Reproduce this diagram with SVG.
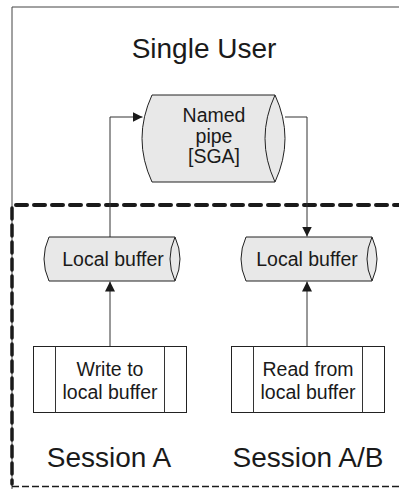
<svg xmlns="http://www.w3.org/2000/svg" width="399" height="489" viewBox="0 0 399 489">
<defs>
<marker id="ah" viewBox="0 0 10 10" refX="10" refY="5" markerWidth="10" markerHeight="10" markerUnits="userSpaceOnUse" orient="auto">
<path d="M0,0 L10,5 L0,10 Z" fill="#1a1a1a"/>
</marker>
</defs>
<style>
.frame{fill:none;stroke:#444;stroke-width:1}
.cyl{fill:#e8e8e8;stroke:#222;stroke-width:1}
.box{fill:#fff;stroke:#222;stroke-width:1}
.ln{fill:none;stroke:#333;stroke-width:1}
.t{font-family:"Liberation Sans",Arial,sans-serif;fill:#1a1a1a;text-anchor:middle}
.s{font-size:19.5px}
.b{font-size:28px}
</style>
<rect width="399" height="489" fill="#fff"/>
<g id="outer-frame">
<path class="frame" d="M12,489 L12,7 L399,7"/>
<text class="t b" x="204" y="58">Single User</text>
</g>
<g id="session-frame">
<path d="M12,205 L399,205" fill="none" stroke="#1a1a1a" stroke-width="4" stroke-dasharray="11,7" stroke-linecap="round" stroke-dashoffset="-4"/>
<path d="M12,208 L12,484" fill="none" stroke="#1a1a1a" stroke-width="3.5" stroke-dasharray="11,6" stroke-linecap="round"/>
<path d="M12,486.5 L399,486.5" fill="none" stroke="#1a1a1a" stroke-width="1.5" stroke-dasharray="7,3"/>
</g>
<g id="connectors">
<path class="ln" d="M110,346 L110,281.5" marker-end="url(#ah)"/>
<path class="ln" d="M110,237 L110,117 L142.5,117" marker-end="url(#ah)"/>
<path class="ln" d="M285,117 L307,117 L307,236.5" marker-end="url(#ah)"/>
<path class="ln" d="M307,346 L307,281.5" marker-end="url(#ah)"/>
</g>
<g id="named-pipe">
<path class="cyl" d="M152,95 L275,95 Q295,138.5 275,182 L152,182 Q132,138.5 152,95 Z"/>
<path class="cyl" d="M275,95 Q255,138.5 275,182"/>
<text class="t s" x="214" y="122">Named</text>
<text class="t s" x="214" y="143">pipe</text>
<text class="t s" x="214" y="163">[SGA]</text>
</g>
<g id="local-buffer-a">
<path class="cyl" d="M49,237 L175,237 Q185,259 175,281 L49,281 Q39,259 49,237 Z"/>
<path class="cyl" d="M175,237 Q165,259 175,281"/>
<text class="t s" x="113" y="266">Local buffer</text>
</g>
<g id="local-buffer-b">
<path class="cyl" d="M246,237 L372,237 Q382,259 372,281 L246,281 Q236,259 246,237 Z"/>
<path class="cyl" d="M372,237 Q362,259 372,281"/>
<text class="t s" x="307" y="266">Local buffer</text>
</g>
<g id="write-process">
<rect class="box" x="33.5" y="346.5" width="153" height="66"/>
<path class="ln" d="M55.5,346.5 V412.5 M164.5,346.5 V412.5"/>
<text class="t s" x="110" y="376">Write to</text>
<text class="t s" x="110" y="399">local buffer</text>
</g>
<g id="read-process">
<rect class="box" x="231.5" y="346.5" width="153" height="66"/>
<path class="ln" d="M253.5,346.5 V412.5 M362.5,346.5 V412.5"/>
<text class="t s" x="308" y="376">Read from</text>
<text class="t s" x="308" y="399">local buffer</text>
</g>
<g id="labels">
<text class="t b" x="109" y="467">Session A</text>
<text class="t b" x="308" y="467">Session A/B</text>
</g>
</svg>
